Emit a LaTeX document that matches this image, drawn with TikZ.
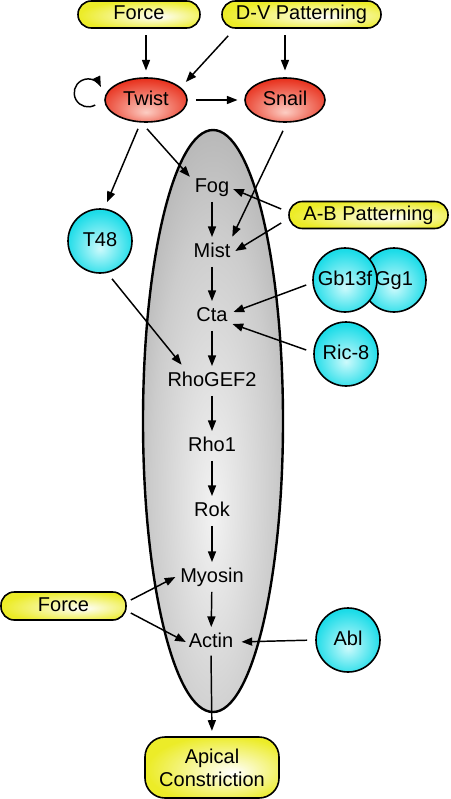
\documentclass[tikz,border=0pt]{standalone}
\usepackage{fontspec}
\setmainfont{Liberation Sans}
\usetikzlibrary{shapes.geometric,arrows.meta}
\definecolor{yelc}{RGB}{236,236,40}
\definecolor{redc}{RGB}{232,48,28}
\definecolor{redl}{RGB}{252,205,195}
\definecolor{cyc}{RGB}{28,220,232}
\definecolor{cyl}{RGB}{205,250,252}
\pgfdeclareradialshading{yelsh}{\pgfpoint{8bp}{-4bp}}{color(0bp)=(white);color(28bp)=(yelc);color(50bp)=(yelc)}
\pgfdeclareradialshading{redsh}{\pgfpoint{0bp}{-14bp}}{color(0bp)=(redl);color(30bp)=(redc);color(50bp)=(redc)}
\pgfdeclareradialshading{cyansh}{\pgfpoint{0bp}{-6bp}}{color(0bp)=(cyl);color(26bp)=(cyc);color(50bp)=(cyc)}
\pgfdeclareradialshading{graysh}{\pgfpoint{0bp}{-8bp}}{color(0bp)=(black!5);color(22bp)=(black!20);color(50bp)=(black!48);color(72bp)=(black!50)}
\tikzset{
  arr/.style={-{Triangle[length=8pt,width=6pt]}, line width=1.1pt},
  lab/.style={font=\fontsize{15}{18}\selectfont, text height=11pt, text depth=3pt, inner sep=2pt},
  ybox/.style={lab, draw, line width=1.2pt, rounded corners=10pt, shade, shading=yelsh, minimum height=20.25pt, inner sep=0pt},
  rell/.style={lab, ellipse, draw, line width=1.2pt, shade, shading=redsh, minimum width=61.5pt, minimum height=33pt, inner sep=0pt},
  ball/.style={lab, circle, draw, line width=1.2pt, shade, shading=cyansh, minimum size=48pt, inner sep=0pt},
  gene/.style={lab}
}
\begin{document}
\begin{tikzpicture}[x=0.75pt,y=-0.75pt]
\useasboundingbox (0,0) rectangle (450,799);
% cell
\node[ellipse, draw, line width=1.8pt, shade, shading=graysh, minimum width=105pt, minimum height=436.5pt, inner sep=0pt] (cell) at (213,421) {};
% top inputs
\node[ybox, minimum width=91.5pt] (forceTop) at (139,14.5) {Force};
\node[ybox, minimum width=119.25pt] (dv) at (301.5,14.5) {D-V Patterning};
\node[rell] (twist) at (146,100) {Twist};
\node[rell, minimum width=60pt] (snail) at (285,100) {Snail};
\node[ybox, minimum width=119.25pt] (ab) at (368.5,215) {A-B Patterning};
\node[ball] (t48) at (100,241) {T48};
\node[ball] (gg) at (394,280) {Gg1};
\node[ball] (gb) at (345,280) {Gb13f};
\node[ball] (ric) at (346,354) {Ric-8};
\node[ball] (abl) at (348,640) {Abl};
\node[ybox, minimum width=93.75pt, minimum height=21pt] (forceBot) at (63.5,606) {Force};
\node[draw, line width=1.2pt, rounded corners=15pt, shade, shading=yelsh, minimum width=100.5pt, minimum height=45.75pt, inner sep=0pt, align=center, font=\fontsize{15}{17.25}\selectfont] (apical) at (212,767.5) {Apical\\Constriction};
% pathway
\node[gene] (fog) at (212,187) {Fog};
\node[gene] (mist) at (212,252) {Mist};
\node[gene] (cta) at (212,316) {Cta};
\node[gene] (rhogef) at (212,381) {RhoGEF2};
\node[gene] (rho) at (212,446) {Rho1};
\node[gene] (rok) at (212,511) {Rok};
\node[gene] (myo) at (212,577) {Myosin};
\node[gene] (actin) at (211,642) {Actin};
% connectors
\draw[arr, shorten <=5pt, shorten >=5pt] (twist.north |- forceTop.south) -- (twist.north);
\draw[arr] ([shift={(7,7)}]dv.south west) -- ([shift={(-2,-18)}]twist.east);
\draw[arr, shorten <=5pt, shorten >=5pt] (snail.north |- dv.south) -- (snail.north);
\draw[arr, shorten <=6pt, shorten >=5pt] (twist.east) -- (snail.west);
\draw[arr] ([shift={(-9,5)}]twist.west) arc[start angle=-60, end angle=-335, radius=10.5pt];
\draw[arr] ([shift={(-8,6)}]twist.south) -- ([shift={(7,-6)}]t48.north);
\draw[arr] ([shift={(1,6)}]twist.south) -- ([shift={(-2,2)}]fog.north west);
\draw[arr] ([shift={(-2,8)}]snail.south) -- ([shift={(-1,-3)}]mist.north east);
\draw[arr] ([shift={(-7,-6)}]ab.west) -- ([shift={(1,2)}]fog.east);
\draw[arr] ([shift={(-7,8)}]ab.west) -- ([shift={(2,-1)}]mist.east);
\draw[arr] ([shift={(-6,5)}]gb.west) -- ([shift={(3,-4)}]cta.east);
\draw[arr] ([shift={(-7,-4)}]ric.west) -- ([shift={(2,8)}]cta.east);
\draw[arr] ([shift={(12,5)}]t48.south) -- ([shift={(17,-4)}]rhogef.north west);
\draw[arr, shorten <=2pt, shorten >=2pt] (fog) -- (mist);
\draw[arr, shorten <=2pt, shorten >=2pt] (mist) -- (cta);
\draw[arr, shorten <=2pt, shorten >=2pt] (cta) -- (rhogef);
\draw[arr, shorten <=2pt, shorten >=2pt] (rhogef) -- (rho);
\draw[arr, shorten <=2pt, shorten >=2pt] (rho) -- (rok);
\draw[arr, shorten <=2pt, shorten >=2pt] (rok) -- (myo);
\draw[arr, shorten <=2pt, shorten >=2pt] (myo) -- (actin);
\draw[arr] ([shift={(4,-6)}]forceBot.east) -- ([shift={(-2,0)}]myo.west);
\draw[arr] ([shift={(4,7)}]forceBot.east) -- (actin.west);
\draw[arr, shorten <=6pt, shorten >=4pt] (abl.west) -- (actin.east);
\draw[arr, shorten <=1pt, shorten >=4pt] (actin.south) -- (apical.north);
\end{tikzpicture}
\end{document}
